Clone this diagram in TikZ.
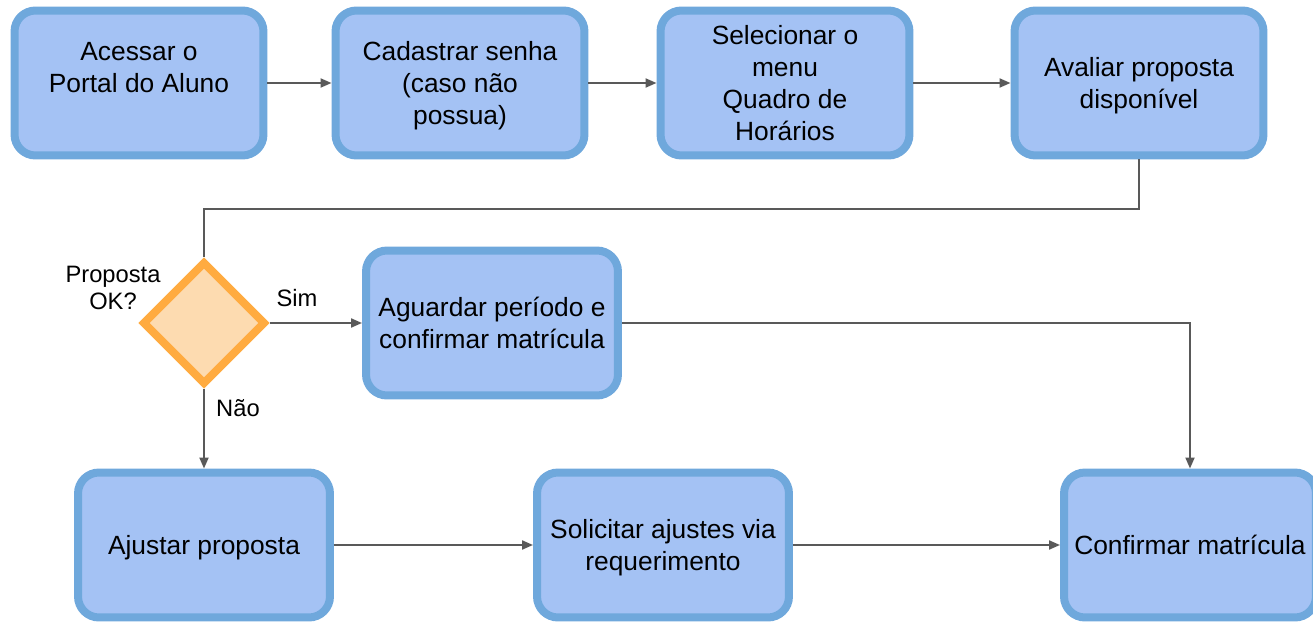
\documentclass[tikz,border=0pt]{standalone}
\usepackage{fontspec}
\setmainfont{Liberation Sans}
\usetikzlibrary{shapes.geometric,arrows.meta}

\definecolor{stepfill}{HTML}{A4C2F4}
\definecolor{stepline}{HTML}{6FA8DC}
\definecolor{choicefill}{HTML}{FDDBB0}
\definecolor{choiceline}{HTML}{FFAB40}
\definecolor{linkgray}{HTML}{595959}

\tikzset{
  stepbox/.style={draw=stepline, fill=stepfill, line width=0.16cm,
    rounded corners=0.42cm, minimum width=4.98cm, minimum height=2.9cm,
    inner sep=0pt, text depth=0pt, align=center,
    font=\fontsize{15}{18.2}\selectfont},
  widebox/.style={stepbox, minimum width=5.04cm},
  choice/.style={diamond, draw=choiceline, fill=choicefill, line width=0.16cm,
    minimum width=2.47cm, minimum height=2.47cm, inner sep=0pt},
  link/.style={draw=linkgray, line width=0.04cm},
  flow/.style={link, -{Triangle[length=0.22cm, width=0.18cm]}},
  lbl/.style={font=\fontsize{13.5}{15.3}\selectfont, align=center, inner sep=0pt}
}

\begin{document}
\begin{tikzpicture}[x=0.02cm, y=-0.02cm]
  \useasboundingbox (0,0) rectangle (1313,622);
  \clip (0,0) rectangle (1313,622);

  % Drawing top row
  \node [stepbox] (portal) at (139,83) {Acessar o\\Portal do Aluno\\\mbox{}};
  \node [stepbox] (senha) at (460,83) {Cadastrar senha\\(caso não\\possua)};
  \node [stepbox] (menu) at (785,83) {Selecionar o\\menu\\Quadro de\\Horários};
  \node [stepbox] (avaliar) at (1139,83) {Avaliar proposta\\disponível};

  % Drawing decision
  \node [choice] (ok) at (204,323) {};
  \node [lbl] (oklbl) at (113,288) {Proposta\\OK?};
  \node [widebox] (aguardar) at (492,323) {Aguardar período e\\confirmar matrícula};

  % Drawing bottom row
  \node [widebox] (ajustar) at (204,545) {Ajustar proposta};
  \node [widebox] (solicitar) at (663,545) {Solicitar ajustes via\\requerimento};
  \node [widebox] (confirmar) at (1190,545) {Confirmar matrícula};

  % Drawing connectors
  \coordinate (turn) at (204,209);
  \draw [flow] (portal) -- (senha);
  \draw [flow] (senha) -- (menu);
  \draw [flow] (menu) -- (avaliar);
  \draw [link] (avaliar.south) |- (turn) -- (ok.north);
  \draw [flow] (ok.east) -- (aguardar.west);
  \node [lbl] (sim) at (297,298) {Sim};
  \draw [flow] (ok.south) -- (ajustar.north);
  \node [lbl] (nao) at (238,408) {Não};
  \draw [flow] (aguardar.east) -| (confirmar.north);
  \draw [flow] (ajustar) -- (solicitar);
  \draw [flow] (solicitar) -- (confirmar);
\end{tikzpicture}
\end{document}
